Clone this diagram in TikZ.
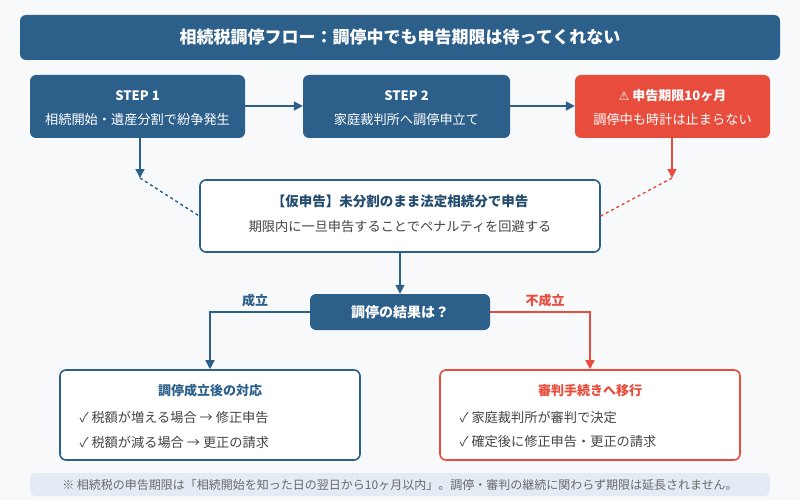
\documentclass[tikz,border=0pt]{standalone}
\usepackage{fontspec}
\setmainfont{Noto Sans CJK JP}
\usetikzlibrary{arrows.meta}
\definecolor{navy}{HTML}{2C5F8A}
\definecolor{redc}{HTML}{E74C3C}
\definecolor{bg}{HTML}{F7F9FB}
\definecolor{note}{HTML}{E3ECF5}
\definecolor{txt}{HTML}{444444}
\begin{document}
\begin{tikzpicture}[x=1pt,y=-1pt,
  box/.style={rounded corners=6pt,inner sep=0pt},
  arr/.style={line width=1.6pt,-{Triangle[length=9pt,width=9pt]}},
  t/.style={font=\fontsize{13.2}{15}\selectfont},
  tb/.style={font=\fontsize{13}{15}\selectfont\bfseries}]
\useasboundingbox (0,0) rectangle (800,500);
\fill[bg] (0,0) rectangle (800,500);
\fill[navy,rounded corners=6pt] (20,15) rectangle (780,60);
\node[white,font=\fontsize{17}{19}\selectfont\bfseries] (title) at (400,37.5) {相続税調停フロー：調停中でも申告期限は待ってくれない};
% steps
\node[box,fill=navy,minimum width=215pt,minimum height=63pt] (s1) at (137.5,106.5) {};
\node[white,tb] at (137.5,96) {STEP 1};
\node[white,t] at (137.5,120) {相続開始・遺産分割で紛争発生};
\node[box,fill=navy,minimum width=207pt,minimum height=63pt] (s2) at (406.5,106.5) {};
\node[white,tb] at (406.5,96) {STEP 2};
\node[white,t] at (406.5,120) {家庭裁判所へ調停申立て};
\node[box,fill=redc,minimum width=195pt,minimum height=63pt] (s3) at (672.5,106.5) {};
\node[white,tb] at (672.5,96) {{\fontspec{DejaVu Sans}\fontsize{12}{14}\selectfont ⚠}\ 申告期限10ヶ月};
\node[white,t] at (672.5,120) {調停中も時計は止まらない};
\draw[arr,navy] (s1.east|-0,106) -- (s2.west|-0,106);
\draw[arr,navy] (s2.east|-0,106) -- (s3.west|-0,106);
% middle
\node[box,draw=navy,line width=1.6pt,fill=white,minimum width=400pt,minimum height=72pt] (m) at (400,216) {};
\node[navy!80!black,font=\fontsize{13.5}{15}\selectfont\bfseries] at (400,201) {【仮申告】未分割のまま法定相続分で申告};
\node[txt,t] at (400,227) {期限内に一旦申告することでペナルティを回避する};
\coordinate (c1) at (140,178);
\coordinate (c3) at (672,178);
\draw[arr,navy] (140,138) -- (c1);
\draw[arr,redc] (672,138) -- (c3);
\draw[navy,line width=1.4pt,dashed] (c1) -- (m.west);
\draw[redc,line width=1.4pt,dashed] (c3) -- (m.east);
% decision
\node[box,fill=navy,minimum width=180pt,minimum height=36pt] (d) at (400,312) {};
\node[white,font=\fontsize{14}{16}\selectfont\bfseries] at (400,312) {調停の結果は？};
\draw[arr,navy] (m.south) -- (d.north);
% outcome boxes
\node[box,draw=navy,line width=1.6pt,fill=white,minimum width=300pt,minimum height=90pt] (l) at (210,415) {};
\node[box,draw=redc,line width=1.6pt,fill=white,minimum width=300pt,minimum height=90pt] (r) at (590,415) {};
\draw[arr,navy] (d.west) -- (210,312) -- (l.north);
\draw[arr,redc] (d.east) -- (590,312) -- (r.north);
\node[navy,tb] at (255,301) {成立};
\node[redc,tb] at (545,301) {不成立};
\node[navy,tb] at (210,391) {調停成立後の対応};
\node[txt,t,anchor=west] at (76,417) {✓ 税額が増える場合 → 修正申告};
\node[txt,t,anchor=west] at (76,442) {✓ 税額が減る場合 → 更正の請求};
\node[redc,tb] at (590,391) {審判手続きへ移行};
\node[txt,t,anchor=west] at (456,417) {✓ 家庭裁判所が審判で決定};
\node[txt,t,anchor=west] at (456,442) {✓ 確定後に修正申告・更正の請求};
% note
\fill[note,rounded corners=5pt] (30,473) rectangle (770,496);
\node[txt!80,font=\fontsize{12}{14}\selectfont] (n) at (400,484.5) {※ 相続税の申告期限は「相続開始を知った日の翌日から10ヶ月以内」。調停・審判の継続に関わらず期限は延長されません。};
\end{tikzpicture}
\end{document}
